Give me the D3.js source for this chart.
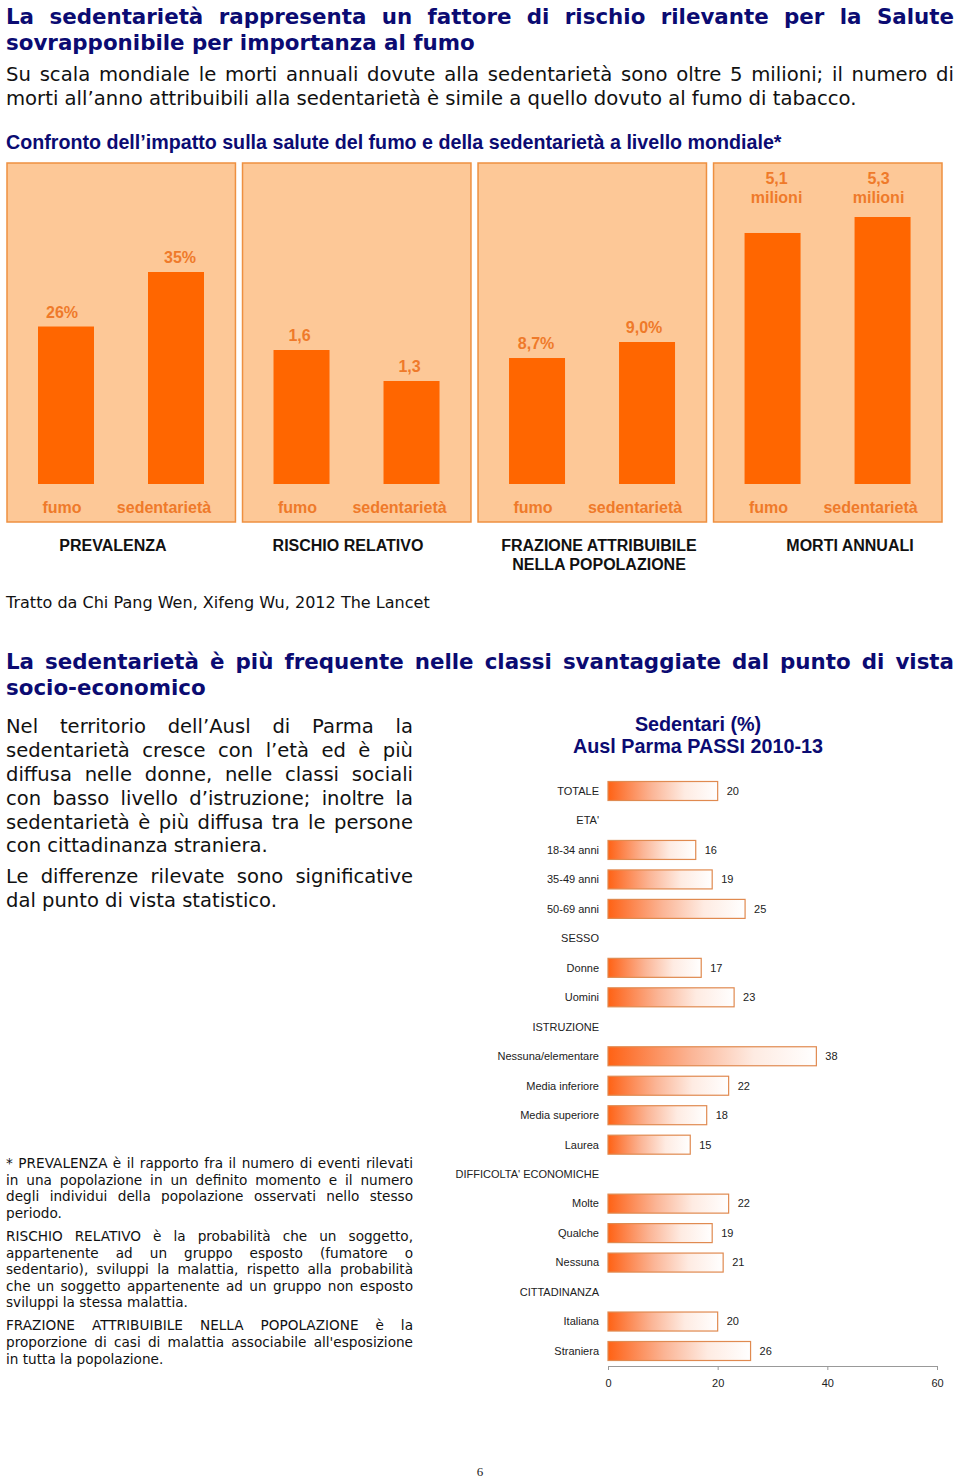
<!DOCTYPE html>
<html><head><meta charset="utf-8">
<script src="https://cdn.jsdelivr.net/npm/d3@7"></script>
<style>body{margin:0;background:#fff}</style>
</head><body>
<svg id="c" width="960" height="1478"></svg>
<script>
// ---------------- DATA ----------------
const impactMeasures = ["PREVALENZA", "RISCHIO RELATIVO", "FRAZIONE ATTRIBUIBILE|NELLA POPOLAZIONE", "MORTI ANNUALI"];
const exposures = ["fumo", "sedentarietà"];
const fumoValues = [26, 1.6, 8.7, 5.1];
const sedentarietaValues = [35, 1.3, 9.0, 5.3];
const fumoLabels = ["26%", "1,6", "8,7%", "5,1|milioni"];
const sedentarietaLabels = ["35%", "1,3", "9,0%", "5,3|milioni"];

const passiCategories = ["TOTALE", "ETA'", "18-34 anni", "35-49 anni", "50-69 anni", "SESSO", "Donne", "Uomini",
  "ISTRUZIONE", "Nessuna/elementare", "Media inferiore", "Media superiore", "Laurea",
  "DIFFICOLTA' ECONOMICHE", "Molte", "Qualche", "Nessuna", "CITTADINANZA", "Italiana", "Straniera"];
const passiValues = [20, null, 16, 19, 25, null, 17, 23, null, 38, 22, 18, 15, null, 22, 19, 21, null, 20, 26];
const axisTicks = [0, 20, 40, 60];

// ---------------- TEXTS ----------------
const title1 = ["La sedentarietà rappresenta un fattore di rischio rilevante per la Salute", "sovrapponibile per importanza al fumo"];
const para1 = ["Su scala mondiale le morti annuali dovute alla sedentarietà sono oltre 5 milioni; il numero di", "morti all’anno attribuibili alla sedentarietà è simile a quello dovuto al fumo di tabacco."];
const subtitle = "Confronto dell’impatto sulla salute del fumo e della sedentarietà a livello mondiale*";
const source = "Tratto da Chi Pang Wen, Xifeng Wu, 2012 The Lancet";
const title2 = ["La sedentarietà è più frequente nelle classi svantaggiate dal punto di vista", "socio-economico"];
const para2 = ["Nel territorio dell’Ausl di Parma la", "sedentarietà cresce con l’età ed è più", "diffusa nelle donne, nelle classi sociali",
  "con basso livello d’istruzione; inoltre la", "sedentarietà è più diffusa tra le persone", "con cittadinanza straniera.",
  "Le differenze rilevate sono significative", "dal punto di vista statistico."];
const notes = ["* PREVALENZA è il rapporto fra il numero di eventi rilevati", "in una popolazione in un definito momento e il numero",
  "degli individui della popolazione osservati nello stesso", "periodo.",
  "RISCHIO RELATIVO è la probabilità che un soggetto,", "appartenente ad un gruppo esposto (fumatore o",
  "sedentario), sviluppi la malattia, rispetto alla probabilità", "che un soggetto appartenente ad un gruppo non esposto",
  "sviluppi la stessa malattia.",
  "FRAZIONE ATTRIBUIBILE NELLA POPOLAZIONE è la", "proporzione di casi di malattia associabile all'esposizione",
  "in tutta la popolazione."];
const chartTitle = ["Sedentari (%)", "Ausl Parma PASSI 2010-13"];

// ---------------- HELPERS ----------------
const svg = d3.select("#c");
const VER = "Verdana, 'DejaVu Sans', sans-serif";
const ARI = "Arial, 'Liberation Sans', sans-serif";
const NAVY = "#0b0b72";

function fitSize(str, target, weight, family) {
  const t = svg.append("text").attr("font-size", 100).attr("font-weight", weight).attr("font-family", family).text(str);
  const w = t.node().getComputedTextLength(); t.remove();
  return 100 * target / w;
}
function line(str, o) {
  const t = svg.append("text").attr("y", o.y).attr("font-size", o.size).attr("font-weight", o.weight || "normal")
    .attr("font-family", o.family).attr("fill", o.fill || "#111");
  if (!o.justify) { t.attr("x", o.x0).text(str); return t; }
  const words = str.split(" ");
  const spans = words.map(w => t.append("tspan").text(w));
  const widths = spans.map(s => s.node().getComputedTextLength());
  const gap = (o.x1 - o.x0 - d3.sum(widths)) / (words.length - 1);
  let x = o.x0;
  spans.forEach((s, i) => { s.attr("x", x); x += widths[i] + gap; });
  return t;
}

// ---------------- HEADER ----------------
const tSize = fitSize(title1[1], 469, "bold", VER);
line(title1[0], {x0: 6, x1: 954, y: 24, size: tSize, weight: "bold", family: VER, fill: NAVY, justify: true});
line(title1[1], {x0: 6, y: 50, size: tSize, weight: "bold", family: VER, fill: NAVY});
const pSize = fitSize(para1[1], 851, "normal", VER);
line(para1[0], {x0: 6, x1: 954, y: 81, size: pSize, family: VER, justify: true});
line(para1[1], {x0: 6, y: 105, size: pSize, family: VER});
line(subtitle, {x0: 6, y: 149, size: fitSize(subtitle, 776, "bold", ARI), weight: "bold", family: ARI, fill: NAVY});

// ---------------- PANELS ----------------
const ORANGE = "#ff6600", TXT = "#ef7a2a";
const panelX = d3.scaleBand().domain(impactMeasures).range([7, 942]).paddingInner(0.03);
const panelScales = [
  d3.scaleLinear().domain([0, 35]).range([484, 272]),
  d3.scaleLinear().domain([0.303, 1.6]).range([484, 350]),
  d3.scaleLinear().domain([6.34, 9.0]).range([484, 342]),
  d3.scaleLinear().domain([1.96, 5.3]).range([484, 217])
];
const titleCx = [113, 348, 599, 850];
const labelShift = [[-4, 4], [-2, -2], [-1, -3], [4, -4]];
impactMeasures.forEach((m, i) => {
  const px = panelX(m), pw = panelX.bandwidth();
  const g = svg.append("g");
  g.append("rect").attr("x", px).attr("y", 163).attr("width", pw).attr("height", 359)
    .attr("fill", "#fdc897").attr("stroke", "#ee9040").attr("stroke-width", 1.5);
  const y = panelScales[i];
  const vals = [fumoValues[i], sedentarietaValues[i]];
  const labs = [fumoLabels[i], sedentarietaLabels[i]];
  exposures.forEach((e, j) => {
    const bx = px + 31 + j * 110, bw = 56;
    g.append("rect").attr("x", bx).attr("y", y(vals[j])).attr("width", bw).attr("height", y.range()[0] - y(vals[j])).attr("fill", ORANGE);
    const parts = labs[j].split("|");
    const cx = bx + bw / 2 + labelShift[i][j];
    if (parts.length === 1) {
      g.append("text").attr("x", cx).attr("y", y(vals[j]) - 9).attr("text-anchor", "middle")
        .attr("font-family", ARI).attr("font-weight", "bold").attr("font-size", 16).attr("fill", TXT).text(parts[0]);
    } else {
      parts.forEach((p, k) => g.append("text").attr("x", cx).attr("y", 184 + k * 19).attr("text-anchor", "middle")
        .attr("font-family", ARI).attr("font-weight", "bold").attr("font-size", 16).attr("fill", TXT).text(p));
    }
    g.append("text").attr("x", px + (j === 0 ? 55 : 157)).attr("y", 513).attr("text-anchor", "middle")
      .attr("font-family", ARI).attr("font-weight", "bold").attr("font-size", 16).attr("fill", TXT).text(e);
  });
  m.split("|").forEach((p, k) => g.append("text").attr("x", titleCx[i]).attr("y", 551 + k * 19).attr("text-anchor", "middle")
    .attr("font-family", ARI).attr("font-weight", "bold").attr("font-size", 16).attr("fill", "#111").text(p));
});
line(source, {x0: 6, y: 608, size: fitSize(source, 424, "normal", VER), family: VER});

// ---------------- SECTION 2 ----------------
line(title2[0], {x0: 6, x1: 954, y: 669, size: tSize, weight: "bold", family: VER, fill: NAVY, justify: true});
line(title2[1], {x0: 6, y: 695, size: tSize, weight: "bold", family: VER, fill: NAVY});
const p2Size = (fitSize(para2[5], 261, "normal", VER) + fitSize(para2[7], 272, "normal", VER)) / 2;
const p2y = [733, 757, 781, 805, 829, 852, 883, 907];
para2.forEach((s, i) => line(s, {x0: 6, x1: 413, y: p2y[i], size: p2Size, family: VER, justify: !(i === 5 || i === 7)}));

const nSize = fitSize(notes[8], 182, "normal", VER);
const ny = [1168, 1185, 1201, 1218, 1241, 1258, 1274, 1291, 1307, 1330, 1347, 1364];
notes.forEach((s, i) => line(s, {x0: 6, x1: 413, y: ny[i], size: nSize, family: VER, justify: ![3, 8, 11].includes(i)}));

// ---------------- PASSI BAR CHART ----------------
const ctSize = fitSize(chartTitle[1], 250, "bold", ARI);
chartTitle.forEach((s, i) => svg.append("text").attr("x", 698).attr("y", 731 + i * 22).attr("text-anchor", "middle")
  .attr("font-family", ARI).attr("font-weight", "bold").attr("font-size", ctSize).attr("fill", NAVY).text(s));

const defs = svg.append("defs");
const grad = defs.append("linearGradient").attr("id", "barGrad").attr("x1", 0).attr("x2", 1).attr("y1", 0).attr("y2", 0);
[[0, "#ff6214"], [0.12, "#fd7a3c"], [0.4, "#fbb596"], [0.7, "#feebe2"], [1, "#ffffff"]]
  .forEach(([o, c]) => grad.append("stop").attr("offset", o).attr("stop-color", c));

const x = d3.scaleLinear().domain([0, 60]).range([608, 937]);
const yRow = d3.scalePoint().domain(passiCategories).range([791, 1351]);
const barH = 19;
const chart = svg.append("g");
chart.selectAll("text.cat").data(passiCategories).join("text").attr("class", "cat")
  .attr("x", 599).attr("y", d => yRow(d)).attr("dy", "0.35em").attr("text-anchor", "end")
  .attr("font-family", ARI).attr("font-size", 11).attr("fill", "#222").text(d => d);
const rows = passiCategories.map((c, i) => ({c, v: passiValues[i]})).filter(d => d.v !== null);
chart.selectAll("rect.bar").data(rows).join("rect").attr("class", "bar")
  .attr("x", x(0)).attr("y", d => yRow(d.c) - barH / 2).attr("width", d => x(d.v) - x(0)).attr("height", barH)
  .attr("fill", "url(#barGrad)").attr("stroke", "#e08a50").attr("stroke-width", 1.2);
chart.selectAll("text.val").data(rows).join("text").attr("class", "val")
  .attr("x", d => x(d.v) + 9).attr("y", d => yRow(d.c)).attr("dy", "0.35em")
  .attr("font-family", ARI).attr("font-size", 11).attr("fill", "#222").text(d => d.v);

const axis = d3.axisBottom(x).tickValues(axisTicks).tickSize(4).tickSizeOuter(0);
const ag = svg.append("g").attr("transform", "translate(0,1366)").call(axis);
ag.select(".domain").attr("stroke", "#999");
ag.selectAll(".tick line").attr("stroke", "#999");
ag.selectAll(".tick text").attr("font-family", ARI).attr("font-size", 11).attr("fill", "#222").attr("dy", "1.3em");

// page number
svg.append("text").attr("x", 480).attr("y", 1471).attr("dy", "0.35em").attr("text-anchor", "middle")
  .attr("font-family", "'Liberation Serif', 'DejaVu Serif', serif").attr("font-size", 13).attr("fill", "#222").text("6");
</script>
</body></html>
